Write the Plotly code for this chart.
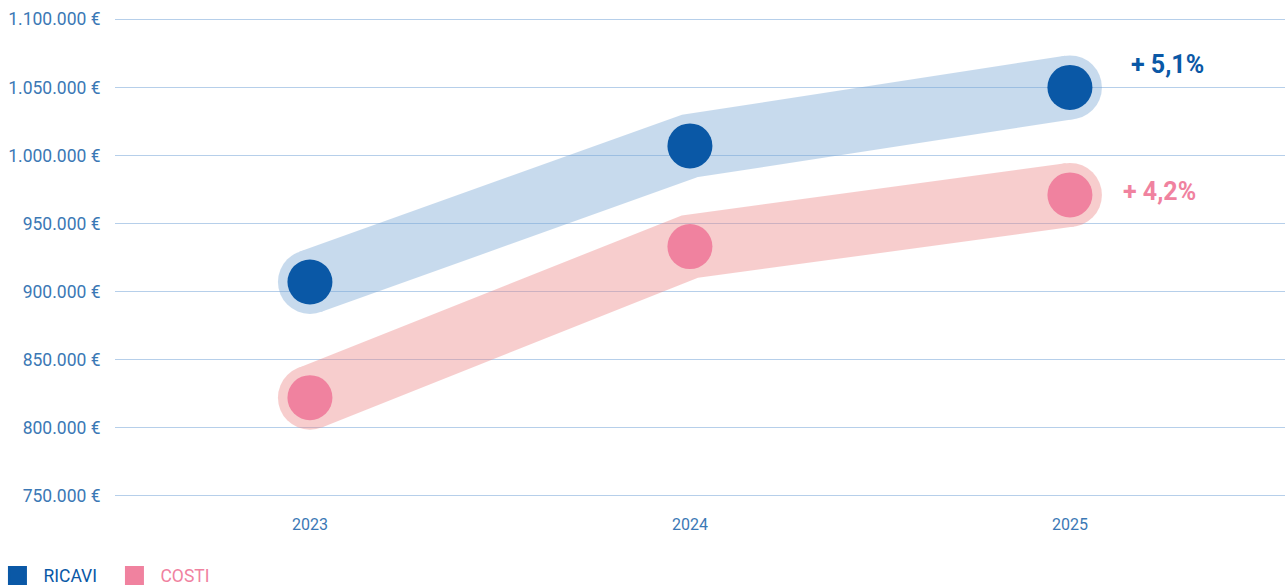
import plotly.graph_objects as go

years = ["2023", "2024", "2025"]
ricavi = [907000, 1007000, 1050000]
costi = [822000, 933000, 971000]
tick_vals = [750000, 800000, 850000, 900000, 950000, 1000000, 1050000, 1100000]
tick_text = ["750.000 €", "800.000 €", "850.000 €", "900.000 €", "950.000 €",
             "1.000.000 €", "1.050.000 €", "1.100.000 €"]
ricavi_label = "+ 5,1%"
costi_label = "+ 4,2%"

BLUE = "#0a58a6"
PINK = "#f0829f"
BLUE_BAND = "#76a5d4"
PINK_BAND = "#ed8585"
TICK = "#3b78b5"
GRID = "#b6cfea"
FONT = "Roboto"

fig = go.Figure()

def band(y, color):
    n = len(y)
    sizes = [64 if i in (0, n - 1) else 0 for i in range(n)]
    return go.Scatter(x=years, y=y, mode="lines+markers",
                      line=dict(color=color, width=64),
                      marker=dict(color=color, size=sizes, opacity=1, line=dict(width=0)),
                      opacity=0.4, showlegend=False, hoverinfo="skip")

fig.add_trace(band(ricavi, BLUE_BAND))
fig.add_trace(band(costi, PINK_BAND))
fig.add_trace(go.Scatter(x=years, y=ricavi, mode="markers",
                         marker=dict(color=BLUE, size=45, line=dict(width=0)),
                         showlegend=False, hoverinfo="skip"))
fig.add_trace(go.Scatter(x=years, y=costi, mode="markers",
                         marker=dict(color=PINK, size=45, line=dict(width=0)),
                         showlegend=False, hoverinfo="skip"))

# legend entries
fig.add_trace(go.Scatter(x=[None], y=[None], mode="markers", name="RICAVI",
                         marker=dict(color=BLUE, symbol="square", size=16,
                                     line=dict(color=BLUE, width=3))))
fig.add_trace(go.Scatter(x=[None], y=[None], mode="markers",
                         name="<span style='color:%s'>COSTI</span>" % PINK,
                         marker=dict(color=PINK, symbol="square", size=16,
                                     line=dict(color=PINK, width=3))))

last = len(years) - 1
fig.add_annotation(x=last, y=ricavi[last], text="<b>%s</b>" % ricavi_label,
                   showarrow=False, xanchor="left", yanchor="middle",
                   xshift=59, yshift=23, font=dict(family=FONT, size=25, color=BLUE))
fig.add_annotation(x=last, y=costi[last], text="<b>%s</b>" % costi_label,
                   showarrow=False, xanchor="left", yanchor="middle",
                   xshift=51, yshift=3, font=dict(family=FONT, size=25, color=PINK))

fig.update_layout(
    width=1285, height=587,
    margin=dict(l=115, r=0, t=18, b=90, autoexpand=False),
    paper_bgcolor="white", plot_bgcolor="white",
    font=dict(family=FONT, size=16, color=TICK),
    hovermode=False,
    xaxis=dict(type="category", range=[-0.513, 2.566], showgrid=False,
               zeroline=False, showline=False, ticks="outside", ticklen=13,
               tickcolor="rgba(0,0,0,0)", tickfont=dict(size=16, color=TICK)),
    yaxis=dict(range=[749000, 1101000], tickvals=tick_vals, ticktext=tick_text,
               showgrid=True, gridcolor=GRID, gridwidth=1, zeroline=False,
               showline=False, ticks="outside", ticklen=10,
               tickcolor="rgba(0,0,0,0)", tickfont=dict(size=17.5, color=TICK)),
    legend=dict(orientation="h", x=-0.1056, xanchor="left", y=-0.164,
                yanchor="middle", font=dict(family=FONT, size=17.5, color=BLUE),
                itemwidth=42, entrywidth=60, tracegroupgap=0,
                bgcolor="rgba(0,0,0,0)"),
)

fig.write_html("out.html", config={"displayModeBar": False},
               post_script="document.body.style.margin='0';document.body.style.overflow='hidden';")
